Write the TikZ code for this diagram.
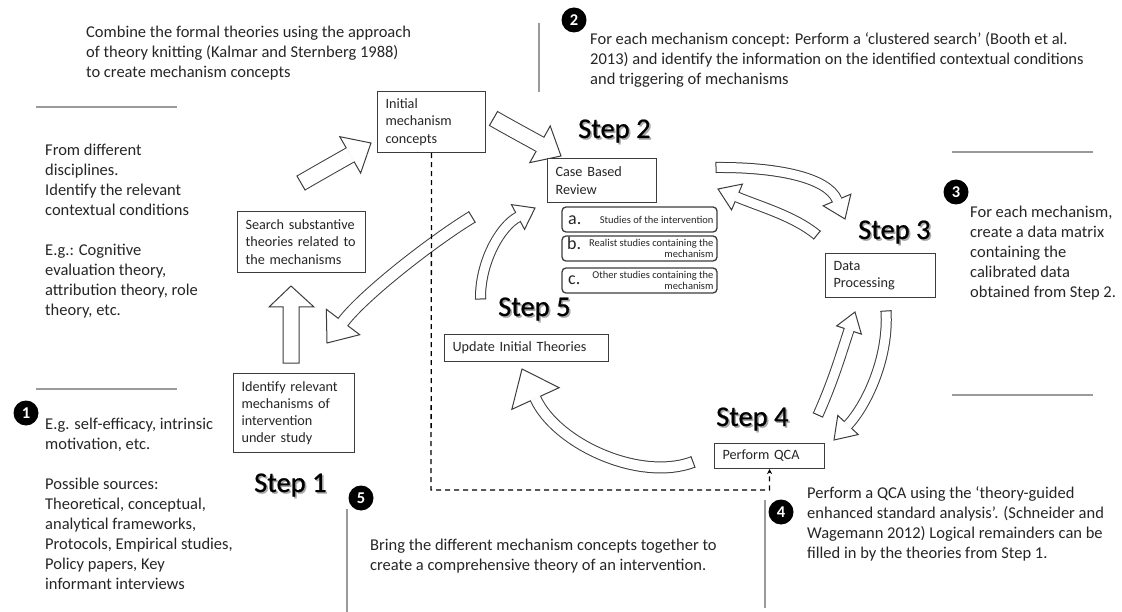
\documentclass[tikz,border=0pt]{standalone}
\usepackage{fontspec}
\setmainfont{Carlito}
\newfontfamily\stepfont[FakeBold=0.7]{Carlito}
\usetikzlibrary{calc,arrows.meta}

\definecolor{ink}{HTML}{262626}
\definecolor{edge}{HTML}{3C3C3C}
\definecolor{rule}{HTML}{9A9A9A}
\definecolor{shade}{HTML}{A8A8A8}

\newcommand\boxfont{\fontsize{14.2}{17.2}\selectfont}

% Hollow block arrow along a curve:
% #1 tail, #2 first control, #3 pull before the head, #4 head base, #5 tip,
% #6 shaft width, #7 half width of the head
\newcommand\blockarrow[7]{%
  \pgfmathsetmacro\baOuter{#6/2+1.1}%
  \pgfmathsetmacro\baInner{#6/2}%
  \draw[arrowline, double=white, double distance=#6pt]
    (#1) .. controls (#2) and ($(#4)!-#3pt!(#5)$) .. (#4);
  \filldraw[arrowline, fill=white, line join=miter]
    ($(#4)!#7pt!90:(#5)$) -- (#5) -- ($(#4)!#7pt!-90:(#5)$) -- cycle;
  \draw[white, line width=1.8pt]
    ($(#4)!\baInner pt!90:(#5)$) -- ($(#4)!\baInner pt!-90:(#5)$);
  \draw[arrowline]
    ($(#1)!\baOuter pt!90:(#2)$) -- ($(#1)!\baOuter pt!-90:(#2)$);
}

% Step heading with a soft drop shadow
\newcommand\stepmark[4]{%
  \node[stepshade] (#1s) at (#2+1.6,#3+1.6) {#4};
  \node[steptxt] (#1) at (#2,#3) {#4};
}

\begin{document}
\begin{tikzpicture}[x=1pt,y=-1pt,
  box/.style={draw=edge, line width=1.1pt, fill=white, anchor=north west,
    align=left, inner xsep=8pt, inner ysep=1pt, font=\boxfont, text=ink},
  subbox/.style={draw=edge, line width=1.3pt, rounded corners=4pt, fill=white,
    minimum width=155pt, minimum height=25pt, inner sep=0pt},
  subletter/.style={anchor=base west, inner sep=0pt,
    font=\fontsize{18}{18}\selectfont, text=ink},
  subtext/.style={anchor=east, align=right, inner sep=0pt,
    font=\fontsize{10.5}{11}\selectfont, text=ink},
  txt/.style={anchor=north west, inner sep=0pt, align=left,
    font=\fontsize{16.5}{20}\selectfont, text=ink},
  steptxt/.style={anchor=base west, inner sep=0pt,
    font=\stepfont\fontsize{28.5}{30}\selectfont, text=black},
  stepshade/.style={steptxt, text=shade},
  numdot/.style={circle, fill=black, minimum size=25pt, inner sep=0pt,
    text=white, font=\fontsize{16.5}{16.5}\selectfont\bfseries},
  rulerline/.style={draw=rule, line width=1.3pt},
  arrowline/.style={draw=edge, line width=1pt},
  dashline/.style={draw=black, line width=1.3pt, dash pattern=on 5pt off 4pt}]

\fill[white] (0,0) rectangle (1122,612);
\useasboundingbox (0,0) rectangle (1122,612);

% separator rules
\draw[rulerline] (539,23) -- (539,92);
\draw[rulerline] (36,107) -- (177,107);
\draw[rulerline] (36,389) -- (177,389);
\draw[rulerline] (952,152) -- (1093,152);
\draw[rulerline] (952,395) -- (1093,395);
\draw[rulerline] (347,509) -- (347,612);
\draw[rulerline] (765,500) -- (765,608);

% block arrows of the cycle
\blockarrow{301,183}{320,172}{8}{350.2,154.9}{371,143}{15}{21}
\blockarrow{493.5,118.5}{510,128}{8}{540,144.3}{561,156}{15}{21}
\blockarrow{716,167.5}{775,167}{25}{837,200}{845,219}{9}{15}
\blockarrow{817,235}{794,216}{25}{737,197}{718,189}{9}{14}
\blockarrow{480.5,299}{480,262}{20}{518,217}{535,208}{9}{14}
\blockarrow{472,217}{434,240}{35}{343,322}{327,343}{11}{21}
\blockarrow{693,462}{640,482}{50}{535.5,398.5}{522,369}{10}{26}
\blockarrow{886,311}{889,360}{25}{848,425}{834,440}{9}{14}
\blockarrow{818,415}{834,379}{25}{849,330}{855,312}{9}{13}
\draw[arrowline] (291,286) -- (314,307) -- (299,307) -- (299,363) -- (283,363)
  -- (283,307) -- (269,307) -- cycle;

% process boxes
\node[box, minimum width=108pt, minimum height=61pt, text width=92pt] (init)
  at (377,91) {Initial\\mechanism\\concepts};
\node[box, minimum width=128pt, minimum height=61pt, text width=112pt] (search)
  at (237,211) {Search substantive\\theories related to\\the mechanisms};
\node[box, minimum width=121pt, minimum height=79pt, text width=105pt] (ident)
  at (233,373) {Identify relevant\\mechanisms of\\intervention\\under study};
\node[box, minimum width=109pt, minimum height=44pt, text width=93pt] (review)
  at (547,158) {Case Based\\Review};
\node[box, minimum width=110pt, minimum height=44pt, text width=94pt] (data)
  at (825,253) {Data\\Processing};
\node[box, minimum width=164pt, minimum height=27pt, text width=148pt] (update)
  at (444,334) {Update Initial Theories};
\node[box, minimum width=110pt, minimum height=25pt, text width=94pt] (qca)
  at (714,443) {Perform QCA};

% kinds of studies
\node[subbox] (sa) at (639.5,219.5) {};
\node[subletter] (la) at (568,225) {a.};
\node[subtext] (ta) at ([xshift=-4pt]sa.east) {Studies of the intervention};
\node[subbox] (sb) at (639.5,248.5) {};
\node[subletter] (lb) at (567,250) {b.};
\node[subtext] (tb) at ([xshift=-4pt]sb.east) {Realist studies containing the\\mechanism};
\node[subbox] (sc) at (639.5,280.5) {};
\node[subletter] (lc) at (568,285) {c.};
\node[subtext] (tc) at ([xshift=-4pt]sc.east) {Other studies containing the\\mechanism};

% dashed link from the initial concepts to the QCA
\coordinate (dashcorner) at (431,490);
\draw[dashline, -{Stealth[length=5pt,width=5pt]}] (init.south) -- (dashcorner) -| (qca.south);

% step headings
\stepmark{step1}{254}{492}{Step 1}
\stepmark{step2}{578}{138}{Step 2}
\stepmark{step3}{858}{239}{Step 3}
\stepmark{step4}{716}{426}{Step 4}
\stepmark{step5}{498}{316}{Step 5}

% numbered markers
\node[numdot] (n1) at (26,413) {1};
\node[numdot] (n2) at (574,20) {2};
\node[numdot] (n3) at (956,192) {3};
\node[numdot] (n4) at (781,512) {4};
\node[numdot] (n5) at (361,498) {5};

% explanatory texts
\node[txt] (tknit) at (86,23) {\strut Combine the formal theories using the approach\\of theory knitting (Kalmar and Sternberg 1988)\\to create mechanism concepts};
\node[txt] (tsearch) at (590,30) {\strut For each mechanism concept: Perform a ‘clustered search’ (Booth et al.\\2013) and identify the information on the identified contextual conditions\\and triggering of mechanisms};
\node[txt] (tdisc) at (45,141) {\strut From different\\disciplines.\\Identify the relevant\\contextual conditions\\[20pt]E.g.: Cognitive\\evaluation theory,\\attribution theory, role\\theory, etc.};
\node[txt] (tsrc) at (45,415) {\strut E.g. self-efficacy, intrinsic\\motivation, etc.\\[20pt]Possible sources:\\Theoretical, conceptual,\\analytical frameworks,\\Protocols, Empirical studies,\\Policy papers, Key\\informant interviews};
\node[txt] (tmatrix) at (970,203) {\strut For each mechanism,\\create a data matrix\\containing the\\calibrated data\\obtained from Step 2.};
\node[txt] (tqca) at (807,484) {\strut Perform a QCA using the ‘theory-guided\\enhanced standard analysis’. (Schneider and\\Wagemann 2012) Logical remainders can be\\filled in by the theories from Step 1.};
\node[txt] (tbring) at (370,536) {\strut Bring the different mechanism concepts together to\\create a comprehensive theory of an intervention.};

\end{tikzpicture}
\end{document}
